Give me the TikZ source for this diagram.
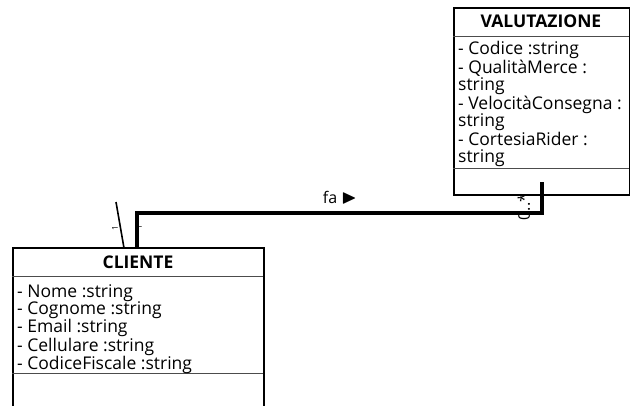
\documentclass[tikz,border=0pt]{standalone}
\usepackage{amssymb}
\usepackage{fontspec}
\setmainfont{Open Sans}
\usetikzlibrary{positioning, calc}

\begin{document}
\begin{tikzpicture}[
        x=1pt, y=-1pt,
        classbox/.style={draw, line width=1.6pt, anchor=north west, inner sep=0pt},
        sepline/.style={line width=1pt, black!70},
        titletext/.style={font=\fontsize{17.5}{18}\selectfont\bfseries},
        attrtext/.style={font=\fontsize{17.5}{17.4}\selectfont, align=left, anchor=north west, inner sep=0pt},
        assoc/.style={line width=3.8pt, line cap=butt},
        multi/.style={font=\fontsize{16}{16}\selectfont, rotate=90, inner sep=0pt}
    ]
        \useasboundingbox (0,0) rectangle (630,405);

        % VALUTAZIONE
        \node[classbox, minimum width=176pt, minimum height=187pt] (valutazione) at (453,7) {};
        \draw[sepline] (453,36) -- (629,36);
        \draw[sepline] (453,168) -- (629,168);
        \node[titletext] (valtitle) at (541,21) {VALUTAZIONE};
        \node[attrtext] (valattr) at (458,41) {
            - Codice :string\\
            - QualitàMerce :\\
            string\\
            - VelocitàConsegna :\\
            string\\
            - CortesiaRider :\\
            string
        };

        % CLIENTE
        \node[classbox, minimum width=251pt, minimum height=162pt] (cliente) at (12,247) {};
        \draw[sepline] (12,276) -- (263,276);
        \draw[sepline] (12,373) -- (263,373);
        \node[titletext] (clititle) at (138,262) {CLIENTE};
        \node[attrtext] (cliattr) at (17,284) {
            - Nome :string\\
            - Cognome :string\\
            - Email :string\\
            - Cellulare :string\\
            - CodiceFiscale :string
        };

        % fa
        \coordinate (clistart) at ($(cliente.north west)+(125,0)$);
        \coordinate (valend) at ($(valutazione.north west)+(89,175)$);
        \coordinate (bend) at ($(valend)+(0,31)$);
        \node[multi] (mval) at (524,207) {0..*};
        \node[multi, font=\fontsize{8}{8}\selectfont] (mcli) at (139,227) {1};
        \node[multi, font=\fontsize{8}{8}\selectfont] (mcli2) at (115,228) {1};
        \draw[assoc] (clistart) |- (bend) -- (valend);
        \draw[line width=1.6pt] (116,202) -- (124,248);
        \node[font=\fontsize{16}{16}\selectfont] (falabel) at (340,198) {fa \fontsize{20}{20}\selectfont$\blacktriangleright$};
    \end{tikzpicture}
\end{document}
